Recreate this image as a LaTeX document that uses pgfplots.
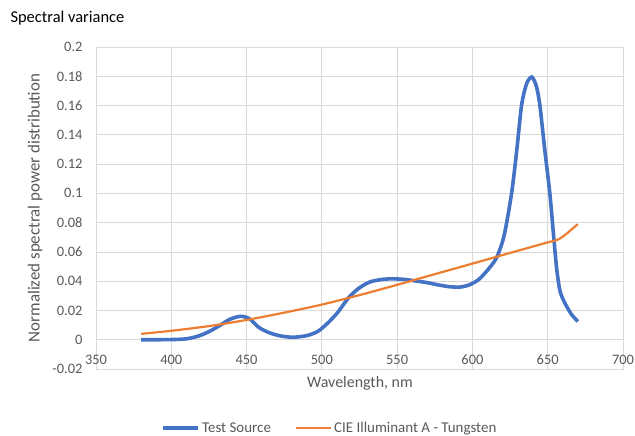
\documentclass[border=0pt]{standalone}
\usepackage{pgfplots}
\pgfplotsset{compat=1.18}
\usepackage{fontspec}
\setmainfont{Carlito}
\definecolor{tblue}{HTML}{4472C4}
\definecolor{torange}{HTML}{ED7D31}
\definecolor{gridc}{HTML}{D9D9D9}
\definecolor{txt}{HTML}{595959}
\begin{document}
\begin{tikzpicture}[x=1bp,y=1bp]
\useasboundingbox (0,0) rectangle (635,436);
\begin{axis}[at={(96bp,67bp)}, anchor=south west, scale only axis,
  width=527bp, height=322bp,
  xmin=350, xmax=700, ymin=-0.02, ymax=0.2,
  xtick={350,400,450,500,550,600,650,700},
  ytick={-0.02,0,0.02,0.04,0.06,0.08,0.1,0.12,0.14,0.16,0.18,0.2},
  yticklabels={-0.02,0,0.02,0.04,0.06,0.08,0.1,0.12,0.14,0.16,0.18,0.2},
  grid=major, major grid style={gridc, line width=0.75bp},
  axis line style={gridc, line width=0.75bp}, major tick length=0pt,
  tick label style={font=\fontsize{14.5}{16}\selectfont, text=txt},
  /pgf/number format/assume math mode=true,
  /pgf/number format/set thousands separator={},
  xticklabel style={anchor=center, yshift=9bp},
  yticklabel style={anchor=east, xshift=-10bp},
  legend columns=2,
  legend style={at={(0.444,-0.183)}, anchor=center, draw=none, fill=none,
    font=\fontsize{15}{17}\selectfont, text=txt,
    /tikz/every even column/.append style={column sep=22bp},
    nodes={inner xsep=2bp}},
  legend image code/.code={\draw[#1] (0bp,0bp) -- (35bp,0bp);},
]
\addplot[tblue, line width=3.6bp, smooth, tension=0.45] coordinates {
(380,0) (390,0) (400,0.0001) (410,0.0006) (418,0.0025) (425,0.0055) (432,0.0096)
(439,0.014) (446,0.016) (452,0.0143) (458,0.0085) (465,0.0048) (473,0.0025)
(481,0.0017) (490,0.0028) (497,0.0055) (503,0.0105) (510,0.018) (518,0.029)
(525,0.0355) (532,0.0395) (540,0.0412) (547,0.0416) (555,0.0412) (562,0.0402)
(570,0.039) (577,0.0375) (585,0.0362) (592,0.036) (598,0.0375) (604,0.041)
(610,0.0475) (616,0.056) (621,0.071) (626,0.1) (629.5,0.13) (632.6,0.16)
(636,0.175) (639.5,0.1795) (642.5,0.173) (644.8,0.16) (648,0.13) (651.4,0.1)
(654,0.07) (656,0.048) (658,0.034) (660,0.028) (663,0.022) (666,0.017) (670,0.0125)
};
\addlegendentry{Test Source}
\addplot[torange, line width=2.2bp, smooth, tension=0.4] coordinates {
(380,0.004) (400,0.0061) (425,0.0093) (450,0.0135) (475,0.0185) (500,0.024)
(525,0.0305) (550,0.0375) (575,0.0448) (600,0.052) (625,0.0593) (650,0.0665)
(657,0.0685) (662,0.072) (666,0.0755) (670,0.079)
};
\addlegendentry{CIE Illuminant A - Tungsten}
\end{axis}
\node[anchor=west, font=\fontsize{16.5}{18}\selectfont] at (7,418) {Spectral variance};
\node[rotate=90, font=\fontsize{17}{19}\selectfont, text=txt] at (35,228) {Normalized spectral power distribution};
\node[font=\fontsize{16}{18}\selectfont, text=txt] at (360,53) {Wavelength, nm};
\end{tikzpicture}
\end{document}
